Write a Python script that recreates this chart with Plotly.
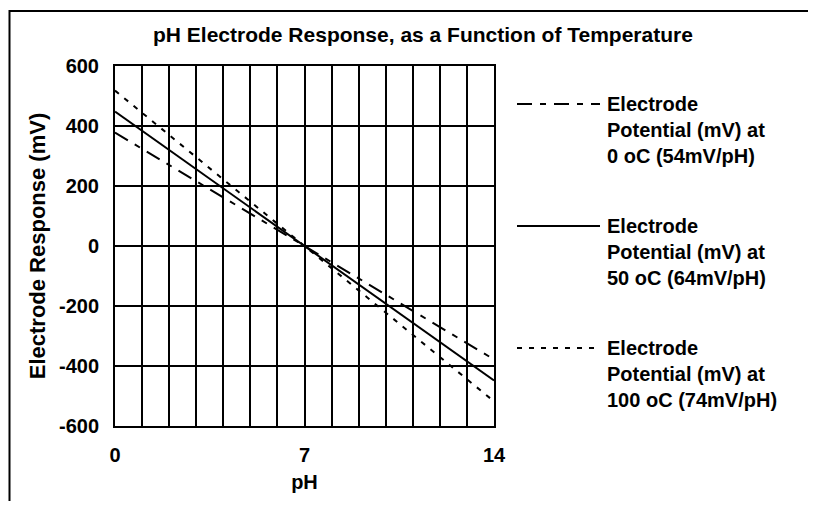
import plotly.graph_objects as go

# ---- data ----
ph = [0, 1, 2, 3, 4, 5, 6, 7, 8, 9, 10, 11, 12, 13, 14]
mv_0C = [378, 324, 270, 216, 162, 108, 54, 0, -54, -108, -162, -216, -270, -324, -378]
mv_50C = [448, 384, 320, 256, 192, 128, 64, 0, -64, -128, -192, -256, -320, -384, -448]
mv_100C = [518, 444, 370, 296, 222, 148, 74, 0, -74, -148, -222, -296, -370, -444, -518]
series_names = [
    "Electrode<br>Potential (mV) at<br>0 oC (54mV/pH)",
    "Electrode<br>Potential (mV) at<br>50 oC (64mV/pH)",
    "Electrode<br>Potential (mV) at<br>100 oC (74mV/pH)",
]
x_ticks = [0, 7, 14]
y_ticks = [-600, -400, -200, 0, 200, 400, 600]

FONT = "Liberation Sans, Arial, sans-serif"
dashes = ["15px,8px,6px,8px", "solid", "5px,7px"]
series = [mv_0C, mv_50C, mv_100C]

OFF = 8  # page body margin
W, H = 816 - OFF, 509 - 2 * OFF
L, R, T, B = 115 - OFF, 494 - OFF, 66 - OFF, 426 - OFF  # plot area (figure px)


def px(xs):  # screen x -> paper
    return (xs - OFF - L) / (R - L)


def py(ys):  # screen y -> paper
    return (B - (ys - OFF)) / (B - T)


fig = go.Figure()
for name, ys, d in zip(series_names, series, dashes):
    fig.add_trace(go.Scatter(x=ph, y=ys, mode="lines", name=name, showlegend=False,
                             line=dict(color="black", width=2, dash=d)))

fig.update_layout(
    width=W, height=H,
    margin=dict(l=L, r=W - R, t=T, b=H - B, pad=0),
    paper_bgcolor="white", plot_bgcolor="white",
    font=dict(family=FONT, size=20, color="black", weight="bold"),
)

fig.update_xaxes(
    range=[0, 14], tickvals=x_ticks, ticktext=[str(v) for v in x_ticks],
    showgrid=True, gridcolor="black", gridwidth=2,
    minor=dict(dtick=1, tick0=0, showgrid=True, gridcolor="black", gridwidth=2),
    showline=True, mirror=True, linecolor="black", linewidth=2,
    zeroline=False, ticks="", ticklabelstandoff=10,
    tickfont=dict(family=FONT, size=20, weight="bold"),
    title=dict(text="pH", standoff=10, font=dict(family=FONT, size=20, weight="bold")),
)
fig.update_yaxes(
    range=[-600, 600], tickvals=y_ticks, ticktext=[str(v) for v in y_ticks],
    showgrid=True, gridcolor="black", gridwidth=2,
    showline=True, mirror=True, linecolor="black", linewidth=2,
    zeroline=False, ticks="", ticklabelstandoff=10,
    tickfont=dict(family=FONT, size=20, weight="bold"),
    title=dict(text="Electrode Response (mV)", standoff=7,
               font=dict(family=FONT, size=22, weight="bold")),
)

# chart title
fig.add_annotation(text="pH Electrode Response, as a Function of Temperature",
                   xref="paper", yref="paper", x=px(423), y=py(34),
                   xanchor="center", yanchor="middle", showarrow=False,
                   font=dict(family=FONT, size=21, weight="bold"))

# manual legend
legend_y = [104, 226, 348]
for name, d, ly in zip(series_names, dashes, legend_y):
    fig.add_shape(type="line", xref="paper", yref="paper",
                  x0=px(517), x1=px(600), y0=py(ly), y1=py(ly),
                  line=dict(color="black", width=2, dash=d))
    fig.add_annotation(text=name, xref="paper", yref="paper",
                       x=px(605), y=py(ly - 13), xanchor="left", yanchor="top",
                       align="left", showarrow=False,
                       font=dict(family=FONT, size=20, weight="bold"))

# outer frame (partially outside the page, as in the reference)
fig.add_shape(type="rect", xref="paper", yref="paper",
              x0=px(9.5), x1=px(840), y0=py(11), y1=py(540),
              line=dict(color="black", width=2), layer="below")

fig.write_html("out.html")
